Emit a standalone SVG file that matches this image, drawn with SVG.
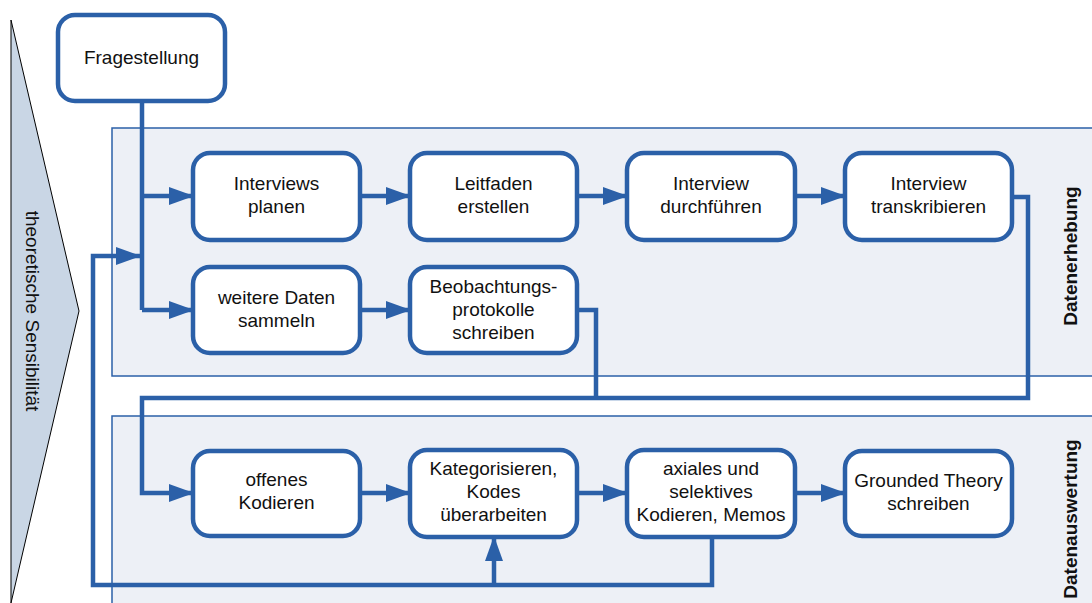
<svg xmlns="http://www.w3.org/2000/svg" width="1092" height="603" viewBox="0 0 1092 603">
  <style>
    .node rect { fill: #ffffff; stroke: #2b60a8; stroke-width: 4.5; }
    .node text, .lbl { font-family: "Liberation Sans", Arial, sans-serif; font-size: 19px; fill: #111111; text-anchor: middle; }
    .panel { fill: #edf0f6; stroke: #2b60a8; stroke-width: 1.5; }
    .phase { font-family: "Liberation Sans", Arial, sans-serif; font-size: 19px; font-weight: bold; fill: #111111; text-anchor: middle; }
    .conn { fill: none; stroke: #2b60a8; stroke-width: 4.5; stroke-linejoin: miter; }
  </style>
  <defs>
    <marker id="arrow" markerUnits="userSpaceOnUse" markerWidth="26" markerHeight="20" refX="24" refY="9" orient="auto">
      <path d="M0,0 L25,9 L0,18 Z" fill="#2b60a8"/>
    </marker>
  </defs>

  <rect width="1092" height="603" fill="#ffffff"/>

  <!-- sensitivity wedge -->
  <g id="sensibilitaet">
    <polygon points="11,20 79,311 11,603" fill="#c9d6e5" stroke="#000000" stroke-width="1"/>
    <text class="lbl" transform="translate(26,311) rotate(90)">theoretische Sensibilität</text>
  </g>

  <!-- phase panels -->
  <g id="datenerhebung">
    <rect class="panel" x="112" y="128" width="990" height="248"/>
    <text class="phase" transform="translate(1077,256) rotate(-90)">Datenerhebung</text>
  </g>
  <g id="datenauswertung">
    <rect class="panel" x="112" y="416" width="990" height="200"/>
    <text class="phase" transform="translate(1077,519) rotate(-90)">Datenauswertung</text>
  </g>

  <!-- connectors -->
  <g id="connectors">
    <path class="conn" d="M142,101 V310"/>
    <path class="conn" d="M142,196 H193" marker-end="url(#arrow)"/>
    <path class="conn" d="M142,310 H193" marker-end="url(#arrow)"/>
    <path class="conn" d="M360,196 H410" marker-end="url(#arrow)"/>
    <path class="conn" d="M577,196 H627" marker-end="url(#arrow)"/>
    <path class="conn" d="M795,196 H845" marker-end="url(#arrow)"/>
    <path class="conn" d="M360,310 H410" marker-end="url(#arrow)"/>
    <path class="conn" d="M1012,197 H1028 V398 H142 V493 H193" marker-end="url(#arrow)"/>
    <path class="conn" d="M577,310 H596 V398"/>
    <path class="conn" d="M360,493 H410" marker-end="url(#arrow)"/>
    <path class="conn" d="M577,493 H627" marker-end="url(#arrow)"/>
    <path class="conn" d="M795,493 H845" marker-end="url(#arrow)"/>
    <path class="conn" d="M712,537 V585 H93 V256 H140" marker-end="url(#arrow)"/>
    <path class="conn" d="M494,585 V537" marker-end="url(#arrow)"/>
  </g>

  <!-- nodes -->
  <g id="fragestellung" class="node">
    <rect x="58" y="15" width="167" height="86" rx="17"/>
    <text x="141.5" y="64">Fragestellung</text>
  </g>
  <g id="interviews-planen" class="node">
    <rect x="193" y="153" width="167" height="87" rx="17"/>
    <text x="276.5" y="190">Interviews</text>
    <text x="276.5" y="213">planen</text>
  </g>
  <g id="leitfaden-erstellen" class="node">
    <rect x="410" y="153" width="167" height="87" rx="17"/>
    <text x="493.5" y="190">Leitfaden</text>
    <text x="493.5" y="213">erstellen</text>
  </g>
  <g id="interview-durchfuehren" class="node">
    <rect x="627" y="153" width="168" height="87" rx="17"/>
    <text x="711" y="190">Interview</text>
    <text x="711" y="213">durchführen</text>
  </g>
  <g id="interview-transkribieren" class="node">
    <rect x="845" y="153" width="167" height="87" rx="17"/>
    <text x="928.5" y="190">Interview</text>
    <text x="928.5" y="213">transkribieren</text>
  </g>
  <g id="weitere-daten" class="node">
    <rect x="193" y="267" width="167" height="86" rx="17"/>
    <text x="276.5" y="304">weitere Daten</text>
    <text x="276.5" y="327">sammeln</text>
  </g>
  <g id="beobachtungsprotokolle" class="node">
    <rect x="410" y="267" width="167" height="86" rx="17"/>
    <text x="493.5" y="293">Beobachtungs-</text>
    <text x="493.5" y="316">protokolle</text>
    <text x="493.5" y="339">schreiben</text>
  </g>
  <g id="offenes-kodieren" class="node">
    <rect x="193" y="451" width="167" height="85" rx="17"/>
    <text x="276.5" y="486">offenes</text>
    <text x="276.5" y="509">Kodieren</text>
  </g>
  <g id="kategorisieren" class="node">
    <rect x="410" y="450" width="167" height="87" rx="17"/>
    <text x="493.5" y="475">Kategorisieren,</text>
    <text x="493.5" y="498">Kodes</text>
    <text x="493.5" y="521">überarbeiten</text>
  </g>
  <g id="axiales-kodieren" class="node">
    <rect x="627" y="450" width="168" height="87" rx="17"/>
    <text x="711" y="475">axiales und</text>
    <text x="711" y="498">selektives</text>
    <text x="711" y="521">Kodieren, Memos</text>
  </g>
  <g id="grounded-theory" class="node">
    <rect x="845" y="451" width="167" height="85" rx="17"/>
    <text x="928.5" y="487">Grounded Theory</text>
    <text x="928.5" y="510">schreiben</text>
  </g>
</svg>
